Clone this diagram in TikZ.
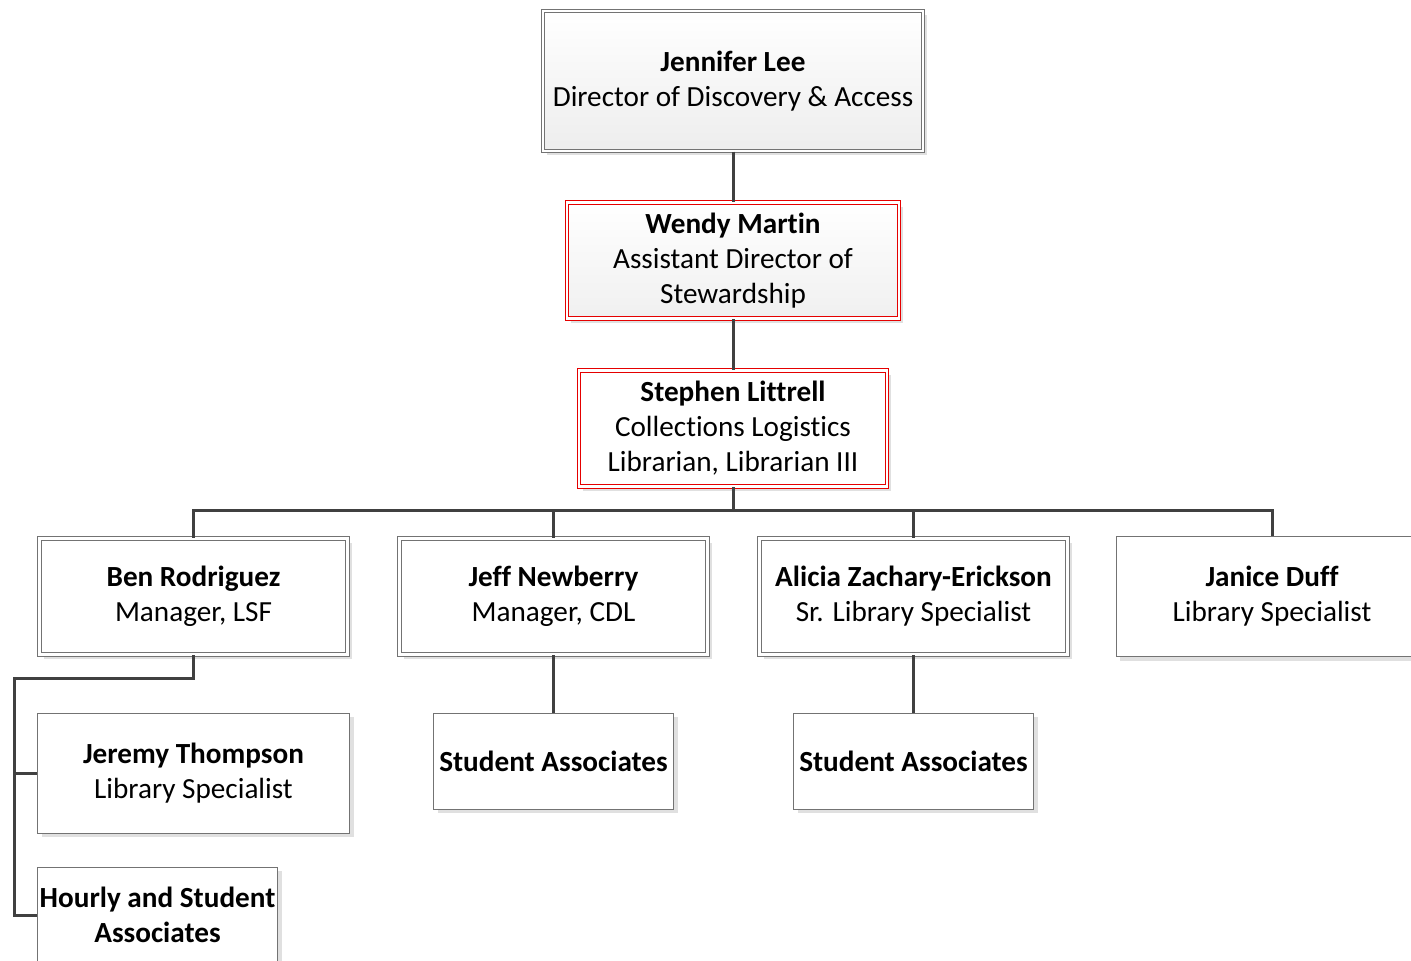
\documentclass[tikz,border=0pt]{standalone}
\usepackage{fontspec}
\setmainfont{Carlito}[Ligatures=NoCommon]
\usetikzlibrary{positioning,shadows}

\begin{document}
\begin{tikzpicture}[x=0.5pt, y=-0.5pt,
  every node/.style = {
    rectangle,
    align = center,
    inner sep = 0,
    font = \fontsize{14.6}{17.5}\selectfont,
    draw = black!55,
    line width = 0.5pt,
    fill = white,
    drop shadow = {shadow xshift=2pt, shadow yshift=-2pt,
                   fill=black!12, opacity=1},
  },
  dbl/.style = {
    double = white,
    double distance = 1.4pt,
  },
  redbox/.style = {
    dbl,
    draw = red!90!black,
  },
  link/.style = {
    draw = black!75,
    line width = 1.5pt,
  },
]
\useasboundingbox (0,0) rectangle (1411,960);

% top of the chart
\node[dbl, top color=white, bottom color=black!7,
  minimum width=190pt, minimum height=70pt] (jlee) at (733,81)
  {\textbf{Jennifer Lee}\\Director of Discovery \& Access};
\node[redbox, top color=white, bottom color=black!6,
  minimum width=166pt, minimum height=58pt] (wmartin) at (733,260.5)
  {\textbf{Wendy Martin}\\Assistant Director of\\Stewardship};
\node[redbox, minimum width=154pt, minimum height=58pt] (slittrell) at (733,428.5)
  {\textbf{Stephen Littrell}\\Collections Logistics\\Librarian, Librarian III};

% managers
\node[dbl, minimum width=154pt, minimum height=58pt] (brodriguez) at (193.5,596.5)
  {\textbf{Ben Rodriguez}\\Manager, LSF};
\node[dbl, minimum width=154pt, minimum height=58pt] (jnewberry) at (553.5,596.5)
  {\textbf{Jeff Newberry}\\Manager, CDL};
\node[dbl, minimum width=154pt, minimum height=58pt] (azachary) at (913.5,596.5)
  {\textbf{Alicia Zachary-Erickson}\\Sr. Library Specialist};
\node[minimum width=156pt, minimum height=60pt] (jduff) at (1272,596.5)
  {\textbf{Janice Duff}\\Library Specialist};

% staff
\node[minimum width=156pt, minimum height=60pt] (jthompson) at (193.5,773)
  {\textbf{Jeremy Thompson}\\Library Specialist};
\node[minimum width=120pt, minimum height=48pt] (hourly) at (157.5,915)
  {\textbf{Hourly and Student}\\\textbf{Associates}};
\node[minimum width=120pt, minimum height=48pt] (studa) at (553.5,761)
  {\textbf{Student Associates}};
\node[minimum width=120pt, minimum height=48pt] (studb) at (913.5,761)
  {\textbf{Student Associates}};

% connectors
\draw[link] (jlee.south) -- (wmartin.north);
\draw[link] (wmartin.south) -- (slittrell.north);
\foreach \n in {brodriguez, jnewberry, azachary, jduff}
  \draw[link] (slittrell.south) -- ++(0,23) -| (\n.north);
\draw[link] (jnewberry.south) -- (studa.north);
\draw[link] (azachary.south) -- (studb.north);
\coordinate (lsf) at (14,678);
\draw[link] (brodriguez.south) |- (lsf) -- (lsf |- hourly.west) -- (hourly.west);
\draw[link] (lsf |- jthompson.west) -- (jthompson.west);
\end{tikzpicture}
\end{document}
